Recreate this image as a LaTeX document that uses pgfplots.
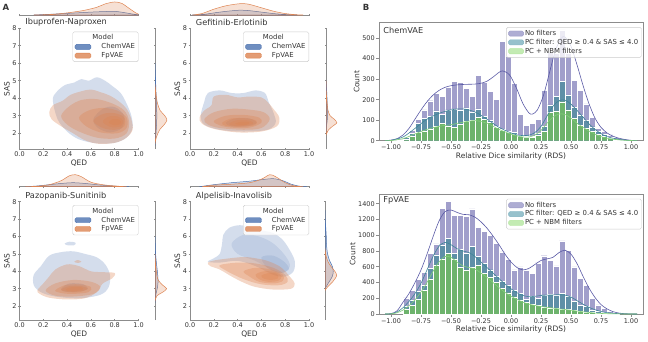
\documentclass[border=0pt]{standalone}
\usepackage{fontspec}
\setmainfont{DejaVu Sans}
\usepackage{pgfplots}
\usepackage{pgfplotstable}
\pgfplotsset{compat=1.18}

\definecolor{cvae}{HTML}{4C72B0}
\definecolor{fvae}{HTML}{DD8452}
\definecolor{hpur}{HTML}{A19FCB}
\definecolor{hteal}{HTML}{5F8FA7}
\definecolor{hgreen}{HTML}{6DB36C}
\definecolor{lpur}{HTML}{5A5AA6}
\definecolor{lteal}{HTML}{3E8598}
\definecolor{lgreen}{HTML}{82D078}
\definecolor{legpur}{HTML}{9B9AC8}
\definecolor{legteal}{HTML}{7EB2C0}
\definecolor{leggreen}{HTML}{B5E6A1}
\definecolor{spine}{HTML}{8C8C8C}
\definecolor{txt}{HTML}{333333}

\newcommand\tfs{\fontsize{6.5}{7.5}\selectfont}
\newcommand\lfs{\fontsize{7.5}{8.5}\selectfont}
\newcommand\gfs{\fontsize{6.9}{8}\selectfont}
\newcommand\hfs{\fontsize{8.2}{9.5}\selectfont}

\pgfplotstableread{
x P T G
-0.975 3 1 0
-0.925 8 4 2
-0.875 20 15 8
-0.825 50 35 22
-0.775 105 85 40
-0.725 150 110 48
-0.675 195 120 55
-0.625 230 145 70
-0.575 215 130 85
-0.525 260 150 70
-0.475 290 155 65
-0.425 285 150 80
-0.375 255 160 95
-0.325 215 140 100
-0.275 320 155 115
-0.225 285 120 105
-0.175 240 100 90
-0.125 200 70 65
-0.075 485 55 50
-0.025 410 45 40
0.025 280 40 30
0.075 130 25 20
0.125 75 20 15
0.175 85 20 15
0.225 105 35 25
0.275 245 70 45
0.325 430 175 140
0.375 425 215 145
0.425 540 288 190
0.475 425 223 150
0.525 295 163 110
0.575 245 125 75
0.625 180 100 60
0.675 115 68 45
0.725 60 44 30
0.775 45 30 20
0.825 28 18 10
0.875 18 9 5
0.925 10 4 2
0.975 3 1 0
}\histchem

\pgfplotstableread{
x P T G
-0.875 205 94 60
-0.825 300 179 110
-0.775 440 285 190
-0.725 530 370 300
-0.675 770 583 440
-0.625 890 753 625
-0.575 1340 880 690
-0.525 1430 960 770
-0.475 1250 774 700
-0.425 1250 817 590
-0.375 1240 774 560
-0.325 1335 860 590
-0.275 1100 732 620
-0.225 1050 647 520
-0.175 1000 562 470
-0.125 900 477 400
-0.075 790 413 330
-0.025 690 370 270
0.025 560 300 220
0.075 600 260 180
0.125 560 190 150
0.175 520 221 120
0.225 650 200 110
0.275 740 243 90
0.325 680 251 80
0.375 610 240 70
0.425 930 264 60
0.475 810 221 55
0.525 600 157 45
0.575 450 115 35
0.625 360 94 25
0.675 200 51 18
0.725 115 30 10
0.775 70 17 6
0.825 30 8 3
0.875 10 3 1
}\histfp

\pgfplotsset{
 base/.style={scale only axis, axis line style={spine, line width=0.6pt}, tick style={spine, line width=0.6pt},
   tick align=outside, major tick length=2.6pt, ticklabel style={font=\tfs, text=txt, inner sep=1.5pt},
   label style={font=\lfs, text=txt}},
 jmain/.style={base, width=119pt, xmin=0, xmax=1, ymax=8, axis lines=left, axis line style={-},
   xtick={0,0.2,0.4,0.6,0.8,1}, xticklabels={0.0,0.2,0.4,0.6,0.8,1.0},
   ytick={2,3,4,5,6,7,8}, yticklabels={2,3,4,5,6,7,8},
   xlabel={QED}, ylabel={SAS},
   xlabel style={at={(ticklabel cs:0.5)}, anchor=near ticklabel, inner sep=1pt},
   ylabel style={at={(ticklabel cs:0.5)}, anchor=near ticklabel, inner sep=1pt},
   title style={font=\hfs, text=txt, anchor=west, inner sep=0pt, yshift=-6pt},
   legend style={at={(1,0.972)}, anchor=north east, font=\gfs, text=txt, draw=black!20, fill=white,
     fill opacity=0.8, text opacity=1, rounded corners=1.5pt, inner xsep=2pt, inner ysep=1.5pt,
     row sep=-0.5pt, nodes={inner sep=1.3pt}},
   legend cell align=left},
 jtop/.style={base, width=119pt, height=14pt, xmin=0, xmax=1, ymin=0, ymax=2.9,
   axis x line=bottom, axis y line=none, axis line style={-}, xtick={0,0.2,0.4,0.6,0.8,1}, xticklabels={},
   major tick length=2pt},
 jright/.style={base, width=15pt, xmin=0, xmax=2.9, ymax=8,
   axis y line=left, axis x line=none, axis line style={-}, ytick={2,3,4,5,6,7,8}, yticklabels={},
   major tick length=2pt},
 hist/.style={base, width=264pt, xmin=-1.1, xmax=1.1, ymin=0, scaled y ticks=false,
   xtick={-1,-0.75,-0.5,-0.25,0,0.25,0.5,0.75,1},
   xticklabels={−1.00,−0.75,−0.50,−0.25,0.00,0.25,0.50,0.75,1.00},
   xtick pos=left, ytick pos=left,
   xlabel={Relative Dice similarity (RDS)}, ylabel={Count},
   xlabel style={inner sep=1pt}, ylabel style={inner sep=1pt},
   title style={font=\hfs, text=txt, anchor=west, inner sep=0pt, yshift=-6pt},
   legend style={at={(0.995,0.962)}, anchor=north east, font=\gfs, text=txt, draw=black!20, fill=white,
     fill opacity=0.8, text opacity=1, rounded corners=1.5pt, inner xsep=2pt, inner ysep=1.5pt,
     row sep=-0.5pt, nodes={inner sep=1.3pt}},
   legend cell align=left},
 cb/.style={forget plot, draw=none, fill=cvae, fill opacity=0.24, smooth cycle, tension=0.55},
 co/.style={forget plot, draw=none, fill=fvae, fill opacity=0.32, smooth cycle, tension=0.55},
 mb/.style={forget plot, draw=cvae, line width=0.5pt, fill=cvae, fill opacity=0.25, smooth},
 mo/.style={forget plot, draw=fvae, line width=0.5pt, fill=fvae, fill opacity=0.25, smooth},
 bars/.style={forget plot, ybar, bar width=0.05, bar shift=0pt, draw=white, line width=0.35pt, fill=#1},
 kde/.style={forget plot, smooth, line width=0.6pt, draw=#1},
}

\newcommand\jleg{%
 \addlegendimage{empty legend}\addlegendentry[xshift=-9pt]{Model}
 \addlegendimage{legend image code/.code={\fill[cvae] (0pt,-2.5pt) rectangle (16pt,2.5pt);}}\addlegendentry{ChemVAE}
 \addlegendimage{legend image code/.code={\fill[fvae] (0pt,-2.5pt) rectangle (16pt,2.5pt);}}\addlegendentry{FpVAE}}

\newcommand\hleg{%
 \addlegendimage{legend image code/.code={\fill[legpur] (0pt,-2.6pt) rectangle (15pt,2.6pt);}}\addlegendentry{No filters}
 \addlegendimage{legend image code/.code={\fill[legteal] (0pt,-2.6pt) rectangle (15pt,2.6pt);}}\addlegendentry{PC filter: QED ≥ 0.4 \& SAS ≤ 4.0}
 \addlegendimage{legend image code/.code={\fill[leggreen] (0pt,-2.6pt) rectangle (15pt,2.6pt);}}\addlegendentry{PC + NBM filters}}

\begin{document}
\begin{tikzpicture}
\useasboundingbox (0pt,0pt) rectangle (648pt,341pt);

\node[anchor=center, font=\bfseries\fontsize{8.5}{9}\selectfont, text=txt] at (6pt,334pt) {A};
\node[anchor=center, font=\bfseries\fontsize{8.5}{9}\selectfont, text=txt] at (366pt,334pt) {B};

%% ===== A1 Ibuprofen-Naproxen =====
\begin{axis}[jmain, at={(19.5pt,192pt)}, anchor=south west, height=120.7pt, ymin=1.1,
  title={Ibuprofen-Naproxen}, title style={at={(axis description cs:0.048,1.047)}}]
\addplot[cb] coordinates {(0.28,3.9) (0.31,4.35) (0.38,4.75) (0.46,4.9) (0.52,5.1) (0.58,5.0) (0.65,5.2) (0.72,5.0) (0.78,4.7) (0.85,4.3) (0.9,3.7) (0.94,3.0) (0.95,2.3) (0.9,1.75) (0.8,1.45) (0.65,1.42) (0.5,1.65) (0.4,2.1) (0.32,2.8)};
\addplot[cb] coordinates {(0.62,2.8) (0.7,3.4) (0.8,3.5) (0.88,3.0) (0.86,2.3) (0.76,2.05) (0.66,2.3)};
\addplot[co] coordinates {(0.25,3.2) (0.28,3.6) (0.36,3.85) (0.43,4.2) (0.52,4.4) (0.6,4.5) (0.68,4.35) (0.76,4.15) (0.84,3.8) (0.9,3.4) (0.94,2.8) (0.95,2.2) (0.9,1.75) (0.8,1.45) (0.66,1.4) (0.55,1.6) (0.45,2.0) (0.35,2.4) (0.27,2.8)};
\addplot[co] coordinates {(0.35,3.0) (0.42,3.55) (0.52,3.9) (0.65,3.95) (0.78,3.7) (0.88,3.3) (0.92,2.7) (0.9,2.0) (0.8,1.7) (0.65,1.75) (0.5,2.1) (0.4,2.5)};
\addplot[co] coordinates {(0.5,2.9) (0.58,3.3) (0.7,3.45) (0.82,3.3) (0.9,2.9) (0.9,2.3) (0.82,2.0) (0.68,2.05) (0.56,2.4)};
\addplot[co] coordinates {(0.62,2.7) (0.7,3.1) (0.8,3.15) (0.88,2.9) (0.88,2.4) (0.8,2.2) (0.7,2.3)};
\addplot[co] coordinates {(0.7,2.65) (0.75,2.95) (0.83,2.95) (0.87,2.7) (0.85,2.4) (0.77,2.35)};
\addplot[co] coordinates {(0.75,2.6) (0.78,2.8) (0.84,2.78) (0.85,2.55) (0.8,2.45)};
\jleg
\end{axis}
\begin{axis}[jtop, at={(19.5pt,326pt)}, anchor=south west]
\addplot[mb] coordinates {(0.12,0) (0.3,0.2) (0.45,0.4) (0.6,0.6) (0.7,0.7) (0.8,0.75) (0.88,0.5) (0.95,0.2) (1.02,0)} -- cycle;
\addplot[mo] coordinates {(0.12,0) (0.25,0.1) (0.35,0.3) (0.45,0.6) (0.55,1.0) (0.65,1.6) (0.72,2.3) (0.8,2.7) (0.86,2.4) (0.92,1.4) (0.98,0.4) (1.02,0)} -- cycle;
\end{axis}
\begin{axis}[jright, at={(155pt,192pt)}, anchor=south west, height=120.7pt, ymin=1.1]
\addplot[mb] coordinates {(0,1.3) (0.15,1.8) (0.3,2.5) (0.35,3.0) (0.3,3.6) (0.2,4.3) (0.12,5.0) (0.05,5.6) (0,6.0)} -- cycle;
\addplot[mo] coordinates {(0,1.4) (0.3,1.8) (0.9,2.2) (1.8,2.5) (2.3,2.75) (1.9,3.0) (1.0,3.3) (0.5,3.7) (0.2,4.2) (0,4.8)} -- cycle;
\end{axis}

%% ===== A2 Gefitinib-Erlotinib =====
\begin{axis}[jmain, at={(190pt,192pt)}, anchor=south west, height=120.7pt, ymin=1.1,
  title={Gefitinib-Erlotinib}, title style={at={(axis description cs:0.048,1.047)}}]
\addplot[cb] coordinates {(0.12,3.8) (0.15,4.3) (0.25,4.45) (0.35,4.3) (0.45,4.3) (0.55,4.45) (0.63,4.3) (0.66,3.8) (0.7,3.2) (0.72,2.6) (0.65,2.2) (0.45,2.1) (0.25,2.2) (0.12,2.5) (0.09,3.0)};
\addplot[cb] coordinates {(0.3,2.6) (0.38,2.85) (0.5,2.85) (0.56,2.6) (0.48,2.4) (0.35,2.4)};
\addplot[co] coordinates {(0.08,2.9) (0.12,3.3) (0.18,3.6) (0.2,4.1) (0.3,4.2) (0.4,4.05) (0.5,4.1) (0.6,4.05) (0.65,3.8) (0.7,3.4) (0.75,2.9) (0.73,2.4) (0.6,2.1) (0.4,2.05) (0.2,2.25) (0.1,2.55)};
\addplot[co] coordinates {(0.12,2.8) (0.2,3.2) (0.35,3.4) (0.5,3.35) (0.62,3.2) (0.67,2.8) (0.6,2.3) (0.45,2.2) (0.25,2.3) (0.15,2.5)};
\addplot[co] coordinates {(0.2,2.7) (0.3,3.0) (0.45,3.05) (0.58,2.9) (0.6,2.6) (0.5,2.32) (0.35,2.32) (0.25,2.45)};
\addplot[co] coordinates {(0.27,2.6) (0.35,2.85) (0.48,2.85) (0.56,2.7) (0.54,2.45) (0.42,2.37) (0.3,2.42)};
\addplot[co] coordinates {(0.33,2.56) (0.4,2.75) (0.5,2.72) (0.53,2.56) (0.45,2.43) (0.36,2.44)};
\addplot[co] coordinates {(0.38,2.56) (0.44,2.67) (0.5,2.62) (0.48,2.49) (0.41,2.48)};
\jleg
\end{axis}
\begin{axis}[jtop, at={(190pt,326pt)}, anchor=south west]
\addplot[mb] coordinates {(0.02,0) (0.12,0.15) (0.22,0.5) (0.32,0.8) (0.42,1.0) (0.5,0.9) (0.6,0.6) (0.7,0.3) (0.8,0.1) (0.9,0)} -- cycle;
\addplot[mo] coordinates {(0.02,0) (0.1,0.3) (0.2,1.2) (0.3,1.9) (0.4,2.3) (0.45,2.35) (0.5,2.2) (0.6,1.5) (0.7,0.8) (0.8,0.3) (0.9,0.05) (0.95,0)} -- cycle;
\end{axis}
\begin{axis}[jright, at={(326pt,192pt)}, anchor=south west, height=120.7pt, ymin=1.1]
\addplot[mb] coordinates {(0,2.0) (0.1,2.4) (0.25,2.8) (0.25,3.4) (0.2,4.0) (0.12,4.5) (0,5.0)} -- cycle;
\addplot[mo] coordinates {(0,1.9) (0.5,2.2) (1.5,2.45) (2.1,2.6) (1.6,2.8) (0.8,3.0) (0.4,3.3) (0.2,3.8) (0.05,4.4) (0,5.0)} -- cycle;
\end{axis}

%% ===== A3 Pazopanib-Sunitinib =====
\begin{axis}[jmain, at={(19.5pt,21pt)}, anchor=south west, height=118.3pt, ymin=1.2,
  title={Pazopanib-Sunitinib}, title style={at={(axis description cs:0.048,1.048)}}]
\addplot[cb] coordinates {(0.12,3.2) (0.12,3.8) (0.18,4.3) (0.25,4.9) (0.35,5.1) (0.45,5.15) (0.55,5.0) (0.65,4.8) (0.72,4.4) (0.76,3.8) (0.75,3.1) (0.68,2.65) (0.5,2.45) (0.3,2.55) (0.18,2.8)};
\addplot[cb] coordinates {(0.38,5.6) (0.42,5.7) (0.47,5.65) (0.46,5.5) (0.4,5.5)};
\addplot[cb] coordinates {(0.35,3.0) (0.42,3.3) (0.54,3.25) (0.57,2.95) (0.45,2.8) (0.37,2.85)};
\addplot[co] coordinates {(0.15,2.9) (0.2,3.3) (0.25,3.7) (0.3,4.1) (0.4,4.4) (0.5,4.3) (0.6,4.0) (0.7,3.95) (0.8,3.9) (0.78,3.6) (0.7,3.3) (0.65,2.8) (0.55,2.45) (0.4,2.38) (0.25,2.48) (0.17,2.7)};
\addplot[co] coordinates {(0.46,4.55) (0.49,4.65) (0.52,4.55) (0.49,4.48)};
\addplot[co] coordinates {(0.22,2.9) (0.3,3.3) (0.45,3.5) (0.6,3.4) (0.68,3.1) (0.62,2.7) (0.45,2.55) (0.3,2.6)};
\addplot[co] coordinates {(0.3,2.9) (0.38,3.2) (0.5,3.25) (0.6,3.1) (0.58,2.8) (0.45,2.7) (0.35,2.75)};
\addplot[co] coordinates {(0.35,2.95) (0.42,3.15) (0.52,3.15) (0.57,3.0) (0.5,2.8) (0.4,2.82)};
\addplot[co] coordinates {(0.39,2.98) (0.45,3.1) (0.52,3.08) (0.53,2.95) (0.46,2.85) (0.4,2.88)};
\jleg
\end{axis}
\begin{axis}[jtop, at={(19.5pt,154.3pt)}, anchor=south west, height=14.5pt]
\addplot[mb] coordinates {(0.05,0) (0.15,0.15) (0.25,0.4) (0.35,0.65) (0.45,0.8) (0.55,0.65) (0.65,0.4) (0.75,0.2) (0.85,0.05) (0.92,0)} -- cycle;
\addplot[mo] coordinates {(0.05,0) (0.15,0.1) (0.25,0.4) (0.35,1.2) (0.42,2.2) (0.47,2.4) (0.52,2.0) (0.6,0.9) (0.7,0.4) (0.8,0.15) (0.9,0)} -- cycle;
\end{axis}
\begin{axis}[jright, at={(155pt,21pt)}, anchor=south west, height=118.3pt, ymin=1.2]
\addplot[mb] coordinates {(0,2.2) (0.2,2.7) (0.5,3.1) (0.6,3.4) (0.5,3.9) (0.3,4.4) (0.12,5.0) (0.05,5.6) (0,6.0)} -- cycle;
\addplot[mo] coordinates {(0,2.3) (0.4,2.6) (1.5,2.8) (2.25,3.0) (1.5,3.2) (0.6,3.5) (0.3,3.9) (0.1,4.5) (0,5.0)} -- cycle;
\end{axis}

%% ===== A4 Alpelisib-Inavolisib =====
\begin{axis}[jmain, at={(190pt,21pt)}, anchor=south west, height=118.3pt, ymin=1.2,
  title={Alpelisib-Inavolisib}, title style={at={(axis description cs:0.048,1.048)}}]
\addplot[cb] coordinates {(0.15,4.55) (0.2,4.75) (0.25,5.0) (0.27,5.6) (0.28,6.1) (0.33,6.5) (0.42,6.65) (0.52,6.5) (0.6,6.35) (0.7,6.2) (0.78,5.8) (0.84,5.2) (0.88,4.6) (0.87,4.0) (0.8,3.7) (0.7,3.8) (0.55,4.3) (0.4,4.6) (0.25,4.5)};
\addplot[cb, fill opacity=0.14] coordinates {(0.35,5.6) (0.45,6.1) (0.58,6.0) (0.7,5.6) (0.8,4.9) (0.84,4.3) (0.78,3.9) (0.68,4.1) (0.55,4.6) (0.4,5.0)};
\addplot[cb, fill opacity=0.14] coordinates {(0.6,4.8) (0.7,4.9) (0.8,4.5) (0.83,4.1) (0.75,3.9) (0.65,4.2)};
\addplot[co] coordinates {(0.15,4.5) (0.2,4.62) (0.3,4.72) (0.45,4.82) (0.55,4.75) (0.65,4.6) (0.75,4.3) (0.8,4.0) (0.85,3.6) (0.88,3.3) (0.85,3.0) (0.7,2.95) (0.55,3.1) (0.45,3.35) (0.35,3.7) (0.25,4.1) (0.17,4.3)};
\addplot[co] coordinates {(0.25,4.35) (0.4,4.5) (0.55,4.45) (0.7,4.2) (0.8,3.8) (0.82,3.4) (0.75,3.2) (0.6,3.25) (0.45,3.55) (0.3,4.05)};
\addplot[co] coordinates {(0.45,4.0) (0.55,4.2) (0.68,4.1) (0.78,3.8) (0.78,3.45) (0.7,3.3) (0.58,3.4) (0.5,3.7)};
\addplot[co] coordinates {(0.55,3.8) (0.62,4.0) (0.72,3.95) (0.77,3.7) (0.74,3.45) (0.65,3.4) (0.58,3.55)};
\addplot[co] coordinates {(0.6,3.75) (0.66,3.9) (0.73,3.85) (0.74,3.6) (0.68,3.5) (0.62,3.58)};
\jleg
\end{axis}
\begin{axis}[jtop, at={(190pt,154.3pt)}, anchor=south west, height=14.5pt]
\addplot[mb] coordinates {(0.08,0) (0.2,0.4) (0.35,0.8) (0.5,1.1) (0.6,1.4) (0.7,1.6) (0.78,1.2) (0.85,0.5) (0.92,0.1) (0.98,0)} -- cycle;
\addplot[mo] coordinates {(0.1,0) (0.2,0.3) (0.35,0.5) (0.5,0.8) (0.6,1.5) (0.67,2.4) (0.72,2.0) (0.8,0.8) (0.87,0.2) (0.95,0)} -- cycle;
\end{axis}
\begin{axis}[jright, at={(325pt,21pt)}, anchor=south west, height=118.3pt, ymin=1.2]
\addplot[mb] coordinates {(0,3.0) (0.6,3.3) (1.4,3.7) (1.6,4.0) (1.4,4.3) (0.9,4.6) (0.5,5.0) (0.3,5.5) (0.25,6.0) (0.15,6.5) (0.05,7.0) (0,7.5)} -- cycle;
\addplot[mo] coordinates {(0,2.9) (0.5,3.1) (1.5,3.4) (2.25,3.75) (1.9,4.0) (1.1,4.3) (0.5,4.6) (0.2,4.9) (0,5.3)} -- cycle;
\end{axis}

%% ===== B top: ChemVAE =====
\begin{axis}[hist, at={(379pt,200.3pt)}, anchor=south west, height=118pt, ymax=575,
  ytick={0,100,200,300,400,500}, yticklabels={0,100,200,300,400,500},
  title={ChemVAE}, title style={at={(axis description cs:0.016,0.938)}}]
\addplot[bars=hpur] table[x=x, y=P] {\histchem};
\addplot[bars=hteal] table[x=x, y=T] {\histchem};
\addplot[bars=hgreen] table[x=x, y=G] {\histchem};
\addplot[kde=lpur] coordinates {(-1.05,0) (-1.0,3) (-0.95,10) (-0.9,28) (-0.85,60) (-0.8,105) (-0.75,150) (-0.7,190) (-0.65,222) (-0.6,245) (-0.55,260) (-0.5,268) (-0.45,272) (-0.4,274) (-0.35,275) (-0.3,276) (-0.25,280) (-0.2,290) (-0.15,310) (-0.1,333) (-0.07,340) (-0.03,330) (0,310) (0.05,250) (0.1,180) (0.15,135) (0.18,130) (0.22,150) (0.27,220) (0.32,330) (0.37,440) (0.42,500) (0.45,505) (0.5,460) (0.55,370) (0.6,270) (0.65,180) (0.7,110) (0.75,65) (0.8,38) (0.85,22) (0.9,12) (0.95,6) (1.0,2) (1.05,0)};
\addplot[kde=lteal] coordinates {(-1.05,0) (-1.0,2) (-0.9,18) (-0.8,60) (-0.7,105) (-0.6,133) (-0.5,150) (-0.4,155) (-0.3,140) (-0.2,105) (-0.1,65) (0,38) (0.05,28) (0.1,25) (0.15,27) (0.2,40) (0.25,70) (0.3,120) (0.35,168) (0.4,195) (0.45,198) (0.5,178) (0.55,148) (0.6,115) (0.65,82) (0.7,55) (0.75,35) (0.8,20) (0.9,6) (1.0,1) (1.05,0)};
\addplot[kde=lgreen] coordinates {(-1.05,0) (-1.0,1) (-0.9,10) (-0.8,33) (-0.7,55) (-0.6,70) (-0.5,78) (-0.4,90) (-0.3,98) (-0.2,85) (-0.1,55) (0,32) (0.05,23) (0.1,18) (0.15,18) (0.2,28) (0.25,50) (0.3,85) (0.35,115) (0.4,130) (0.45,128) (0.5,110) (0.55,85) (0.6,65) (0.65,47) (0.7,32) (0.75,20) (0.8,12) (0.9,4) (1.0,1) (1.05,0)};
\hleg
\end{axis}

%% ===== B bottom: FpVAE =====
\begin{axis}[hist, at={(379pt,27pt)}, anchor=south west, height=119.7pt, ymax=1520,
  ytick={0,200,400,600,800,1000,1200,1400}, yticklabels={0,200,400,600,800,1000,1200,1400},
  title={FpVAE}, title style={at={(axis description cs:0.016,0.952)}}]
\addplot[bars=hpur] table[x=x, y=P] {\histfp};
\addplot[bars=hteal] table[x=x, y=T] {\histfp};
\addplot[bars=hgreen] table[x=x, y=G] {\histfp};
\addplot[kde=lpur] coordinates {(-1.05,0) (-1.0,5) (-0.95,40) (-0.9,150) (-0.85,260) (-0.8,400) (-0.75,560) (-0.7,760) (-0.65,980) (-0.6,1180) (-0.55,1300) (-0.5,1320) (-0.45,1290) (-0.4,1265) (-0.35,1260) (-0.3,1230) (-0.25,1170) (-0.2,1090) (-0.15,990) (-0.1,880) (-0.05,760) (0,660) (0.05,590) (0.1,560) (0.15,580) (0.2,630) (0.25,680) (0.3,700) (0.35,720) (0.4,780) (0.45,810) (0.5,760) (0.55,640) (0.6,480) (0.65,330) (0.7,210) (0.75,120) (0.8,65) (0.85,30) (0.9,12) (0.95,4) (1.0,1) (1.05,0)};
\addplot[kde=lteal] coordinates {(-1.05,0) (-1.0,3) (-0.95,25) (-0.9,80) (-0.85,160) (-0.8,260) (-0.75,390) (-0.7,560) (-0.65,730) (-0.6,860) (-0.55,910) (-0.5,880) (-0.45,830) (-0.4,800) (-0.35,780) (-0.3,730) (-0.25,660) (-0.2,590) (-0.15,520) (-0.1,450) (-0.05,380) (0,320) (0.05,270) (0.1,235) (0.15,220) (0.2,225) (0.25,235) (0.3,240) (0.35,242) (0.4,245) (0.45,240) (0.5,215) (0.55,170) (0.6,125) (0.65,85) (0.7,55) (0.75,32) (0.8,17) (0.9,4) (1.0,1) (1.05,0)};
\addplot[kde=lgreen] coordinates {(-1.05,0) (-1.0,2) (-0.95,15) (-0.9,50) (-0.85,105) (-0.8,180) (-0.75,280) (-0.7,400) (-0.65,540) (-0.6,660) (-0.55,730) (-0.5,720) (-0.45,660) (-0.4,610) (-0.35,590) (-0.3,570) (-0.25,520) (-0.2,465) (-0.15,400) (-0.1,335) (-0.05,275) (0,225) (0.05,185) (0.1,150) (0.15,125) (0.2,108) (0.25,95) (0.3,85) (0.35,75) (0.4,65) (0.45,57) (0.5,48) (0.55,38) (0.6,28) (0.65,20) (0.7,12) (0.75,7) (0.8,4) (0.9,1) (1.05,0)};
\hleg
\end{axis}
\end{tikzpicture}
\end{document}
